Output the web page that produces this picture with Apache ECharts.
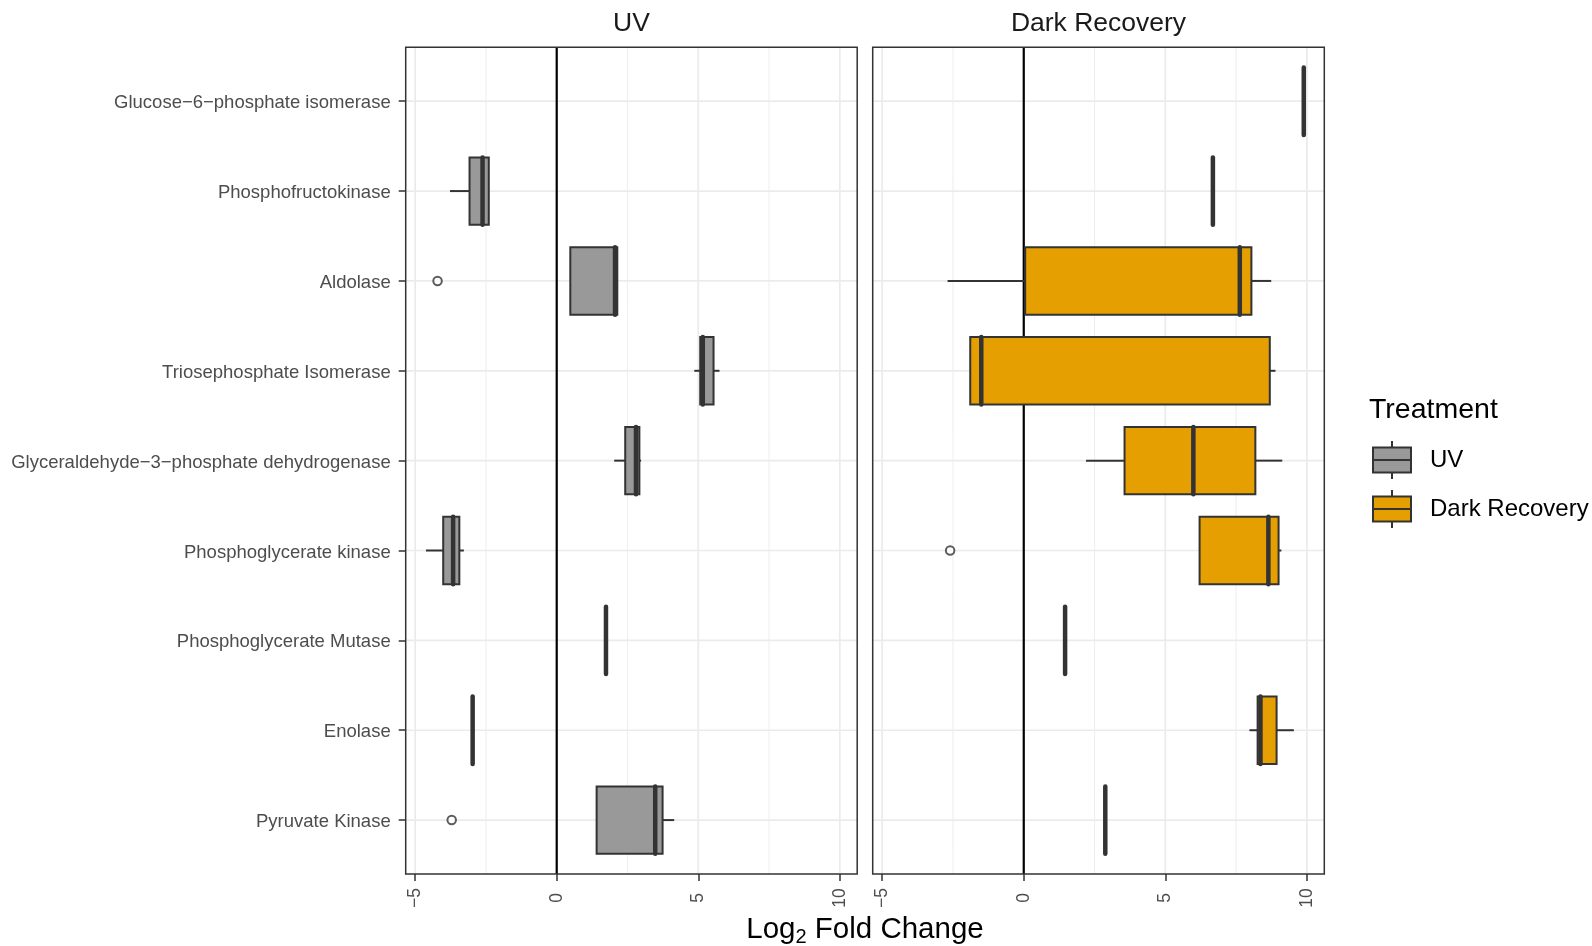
<!DOCTYPE html>
<html>
<head>
<meta charset="utf-8">
<script src="https://cdn.jsdelivr.net/npm/echarts@6/dist/echarts.min.js"></script>
<style>
html,body{margin:0;padding:0;background:#ffffff;}
#chart{width:1592px;height:946px;}
</style>
</head>
<body>
<div id="chart"></div>
<script>
// ---------------- data ----------------
const categories = [
  'Glucose\u22126\u2212phosphate isomerase',
  'Phosphofructokinase',
  'Aldolase',
  'Triosephosphate Isomerase',
  'Glyceraldehyde\u22123\u2212phosphate dehydrogenase',
  'Phosphoglycerate kinase',
  'Phosphoglycerate Mutase',
  'Enolase',
  'Pyruvate Kinase'
];
const treatments = ['UV', 'Dark Recovery'];
// [categoryIndex, lowerWhisker, q1, median, q3, upperWhisker]
const uvBoxes = [
  [1, -3.77, -3.08, -2.62, -2.40, -2.40],
  [2, 0.48, 0.48, 2.06, 2.14, 2.14],
  [3, 4.86, 5.07, 5.16, 5.54, 5.75],
  [4, 2.03, 2.42, 2.80, 2.92, 2.98],
  [5, -4.62, -4.01, -3.66, -3.44, -3.28],
  [6, 1.74, 1.74, 1.74, 1.74, 1.74],
  [7, -2.97, -2.97, -2.97, -2.97, -2.97],
  [8, 1.41, 1.41, 3.48, 3.74, 4.15]
];
// [value, categoryIndex]
const uvOutliers = [[-4.21, 2], [-3.71, 8]];
const drBoxes = [
  [0, 9.89, 9.89, 9.89, 9.89, 9.89],
  [1, 6.68, 6.68, 6.68, 6.68, 6.68],
  [2, -2.69, 0.05, 7.63, 8.04, 8.74],
  [3, -1.89, -1.89, -1.50, 8.69, 8.89],
  [4, 2.20, 3.56, 5.99, 8.18, 9.13],
  [5, 6.21, 6.21, 8.64, 9.00, 9.10],
  [6, 1.46, 1.46, 1.46, 1.46, 1.46],
  [7, 7.97, 8.26, 8.36, 8.93, 9.54],
  [8, 2.88, 2.88, 2.88, 2.88, 2.88]
];
const drOutliers = [[-2.60, 5]];
const xTicks = [-5, 0, 5, 10];
const xMinorGrid = [-2.5, 2.5, 7.5];
const xLimits = [-5.335, 10.615];
const yLimits = [-0.6, 8.6];
const refLine = [0];

// ---------------- styling ----------------
const FONT = '"Liberation Sans", Arial, Helvetica, sans-serif';
const FILLS = ['#999999', '#E69F00'];
const INK = '#333333';
const GRIDC = '#EBEBEB';
const BOX_W = 0.75;

const panels = [
  {left: 405.7, top: 47.3, width: 451.5, height: 826.7},
  {left: 872.7, top: 47.3, width: 451.6, height: 826.7}
];

function minusFmt(v) { return v < 0 ? '\u2212' + Math.abs(v) : String(v); }

// gridline items: [kind, value] kind 0 = major vertical, 1 = minor vertical, 2 = horizontal, 3 = zero reference
const gridItems = []
  .concat(xTicks.map(v => [0, v]))
  .concat(xMinorGrid.map(v => [1, v]))
  .concat(categories.map((c, i) => [2, i]))
  .concat(refLine.map(v => [3, v]));

function renderGrid(params, api) {
  const cs = params.coordSys;
  const kind = api.value(0), v = api.value(1);
  if (kind === 2) {
    const p = api.coord([0, v]);
    return {type: 'line', silent: true,
      shape: {x1: cs.x, y1: p[1], x2: cs.x + cs.width, y2: p[1]},
      style: {stroke: GRIDC, lineWidth: 1.7}};
  }
  const p = api.coord([v, 0]);
  let stroke = GRIDC, lw = 1.7;
  if (kind === 1) lw = 0.85;
  if (kind === 3) { stroke = '#000000'; lw = 2.2; }
  return {type: 'line', silent: true,
    shape: {x1: p[0], y1: cs.y, x2: p[0], y2: cs.y + cs.height},
    style: {stroke: stroke, lineWidth: lw}};
}

function makeBoxRenderer(fill) {
  return function (params, api) {
    const cat = api.value(0);
    const lo = api.coord([api.value(1), cat]);
    const q1 = api.coord([api.value(2), cat]);
    const md = api.coord([api.value(3), cat]);
    const q3 = api.coord([api.value(4), cat]);
    const hi = api.coord([api.value(5), cat]);
    const h = api.size([0, BOX_W])[1];
    const y = q1[1];
    const children = [];
    if (q1[0] - lo[0] > 0.5) children.push({type: 'line',
      shape: {x1: lo[0], y1: y, x2: q1[0], y2: y}, style: {stroke: INK, lineWidth: 2}});
    if (hi[0] - q3[0] > 0.5) children.push({type: 'line',
      shape: {x1: q3[0], y1: y, x2: hi[0], y2: y}, style: {stroke: INK, lineWidth: 2}});
    children.push({type: 'rect',
      shape: {x: q1[0], y: y - h / 2, width: q3[0] - q1[0], height: h},
      style: {fill: fill, stroke: INK, lineWidth: 2}});
    children.push({type: 'line',
      shape: {x1: md[0], y1: y - h / 2, x2: md[0], y2: y + h / 2},
      style: {stroke: INK, lineWidth: 4.5, lineCap: 'round'}});
    return {type: 'group', children: children};
  };
}

const xAxes = panels.map((p, i) => ({
  gridIndex: i, type: 'value', min: xLimits[0], max: xLimits[1], position: 'bottom',
  axisLine: {show: false, onZero: false}, splitLine: {show: false}, minorSplitLine: {show: false},
  axisTick: {show: true, length: 7, lineStyle: {color: INK, width: 1.5}, customValues: xTicks},
  axisLabel: {customValues: xTicks, rotate: 90, align: 'center', verticalAlign: 'middle',
    margin: 24, fontSize: 17.5, color: '#4D4D4D', fontFamily: FONT, formatter: minusFmt}
}));
const catIdx = categories.map((c, i) => i);
const yAxes = panels.map((p, i) => ({
  gridIndex: i, type: 'value', min: yLimits[0], max: yLimits[1], inverse: true, position: 'left',
  axisLine: {show: false, onZero: false}, splitLine: {show: false},
  axisTick: {show: i === 0, length: 7, lineStyle: {color: INK, width: 1.5}, customValues: catIdx},
  axisLabel: {show: i === 0, customValues: catIdx, margin: 15, color: '#4D4D4D',
    formatter: v => '{l|' + categories[Math.round(v)] + '}',
    rich: {l: {fontSize: 18.5, color: '#4D4D4D', fontFamily: FONT, padding: [4, 0, 0, 0]}}}
}));

const series = [];
[uvBoxes, drBoxes].forEach((boxes, i) => {
  series.push({type: 'custom', name: 'grid' + i, xAxisIndex: i, yAxisIndex: i, z: 1, silent: true,
    renderItem: renderGrid, data: gridItems, encode: {x: 1, y: 1}, tooltip: {show: false}});
  series.push({type: 'custom', name: treatments[i], xAxisIndex: i, yAxisIndex: i, z: 3,
    itemStyle: {color: FILLS[i], borderColor: INK, borderWidth: 2},
    renderItem: makeBoxRenderer(FILLS[i]), data: boxes, encode: {x: [1, 2, 3, 4, 5], y: 0}});
});
[uvOutliers, drOutliers].forEach((pts, i) => {
  series.push({type: 'scatter', name: treatments[i] + ' outliers', xAxisIndex: i, yAxisIndex: i, z: 4,
    symbol: 'emptyCircle', symbolSize: 8.5,
    itemStyle: {color: INK, borderWidth: 1.7}, data: pts});
});

const option = {
  animation: false,
  backgroundColor: '#ffffff',
  grid: panels.map(p => ({left: p.left, top: p.top, width: p.width, height: p.height,
    show: true, borderColor: INK, borderWidth: 1.5, backgroundColor: 'transparent',
    containLabel: false, outerBoundsMode: 'none', z: 10})),
  xAxis: xAxes,
  yAxis: yAxes,
  legend: {
    data: treatments, orient: 'vertical', left: 1372, top: 440, padding: 0,
    itemWidth: 38, itemHeight: 38, itemGap: 9, selectedMode: false,
    icon: 'path://M19 0L19 6.5M0 6.5L38 6.5L38 19L0 19ZM0 19L38 19L38 31.5L0 31.5ZM19 31.5L19 38',
    itemStyle: {borderColor: INK, borderWidth: 2},
    textStyle: {fontSize: 24, color: '#000000', fontFamily: FONT, padding: [6, 0, 0, 14]}
  },
  graphic: [
    {type: 'text', x: panels[0].left + panels[0].width / 2, y: 24,
      style: {text: treatments[0], fontSize: 26.5, fontFamily: FONT, fill: '#1A1A1A', align: 'center', verticalAlign: 'middle'}},
    {type: 'text', x: panels[1].left + panels[1].width / 2, y: 24,
      style: {text: treatments[1], fontSize: 26.5, fontFamily: FONT, fill: '#1A1A1A', align: 'center', verticalAlign: 'middle'}},
    {type: 'text', x: 1369, y: 410,
      style: {text: 'Treatment', fontSize: 28.5, fontFamily: FONT, fill: '#000000', align: 'left', verticalAlign: 'middle'}},
    {type: 'text', x: (panels[0].left + panels[1].left + panels[1].width) / 2, y: 930,
      style: {text: '{a|Log}{b|2}{a| Fold Change}', align: 'center', verticalAlign: 'middle',
        rich: {
          a: {fontSize: 29.5, fontFamily: FONT, fill: '#000000', lineHeight: 34},
          b: {fontSize: 20, fontFamily: FONT, fill: '#000000', lineHeight: 14, verticalAlign: 'bottom'}
        }}}
  ],
  series: series
};

const chart = echarts.init(document.getElementById('chart'), null, {renderer: 'canvas', width: 1592, height: 946});
chart.setOption(option);
</script>
</body>
</html>
